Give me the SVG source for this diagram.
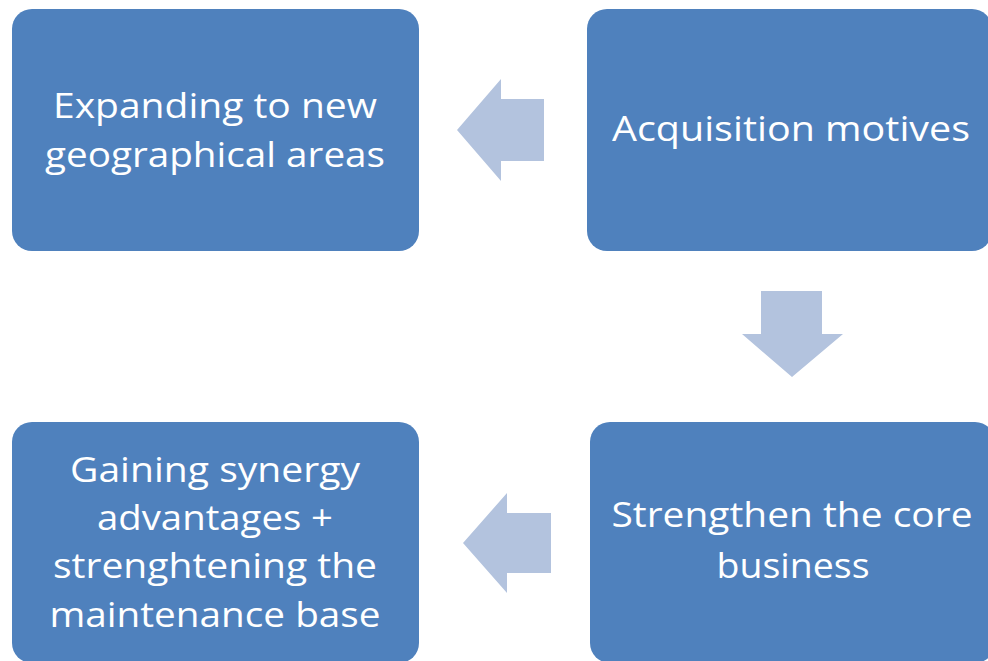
<svg xmlns="http://www.w3.org/2000/svg" width="988" height="661" viewBox="0 0 988 661">
  <style>
    .box { fill: #4F81BD; }
    .arrow { fill: #B3C3DE; }
    .label { fill: #FFFFFF; font-family: "Open Sans", "Noto Sans", "Liberation Sans", sans-serif; font-size: 35px; text-anchor: middle; }
  </style>
  <rect width="988" height="661" fill="#FFFFFF"/>

  <!-- block arrows between the boxes -->
  <g id="connectors">
    <polygon class="arrow" points="457,130 501,79 501,99 544,99 544,161 501,161 501,181"/>
    <polygon class="arrow" points="761,291 822,291 822,334 843,334 792,377 742,334 761,334"/>
    <polygon class="arrow" points="463,543 507,493 507,513 551,513 551,573 507,573 507,593"/>
  </g>

  <g id="node-expanding">
    <rect class="box" x="12" y="9" width="407" height="242" rx="20" ry="20"/>
    <text class="label" x="215" y="118" textLength="324" lengthAdjust="spacingAndGlyphs">Expanding to new</text>
    <text class="label" x="215" y="167" textLength="340" lengthAdjust="spacingAndGlyphs">geographical areas</text>
  </g>

  <g id="node-acquisition">
    <rect class="box" x="587" y="9" width="405" height="242" rx="20" ry="20"/>
    <text class="label" x="791" y="141" textLength="358" lengthAdjust="spacingAndGlyphs">Acquisition motives</text>
  </g>

  <g id="node-synergy">
    <rect class="box" x="12" y="422" width="407" height="241" rx="20" ry="20"/>
    <text class="label" x="215" y="482" textLength="290" lengthAdjust="spacingAndGlyphs">Gaining synergy</text>
    <text class="label" x="215" y="530" textLength="236" lengthAdjust="spacingAndGlyphs">advantages +</text>
    <text class="label" x="215" y="578" textLength="324" lengthAdjust="spacingAndGlyphs">strenghtening the</text>
    <text class="label" x="215" y="627" textLength="331" lengthAdjust="spacingAndGlyphs">maintenance base</text>
  </g>

  <g id="node-core">
    <rect class="box" x="590" y="422" width="405" height="241" rx="20" ry="20"/>
    <text class="label" x="792" y="527" textLength="361" lengthAdjust="spacingAndGlyphs">Strengthen the core</text>
    <text class="label" x="793" y="578" textLength="153" lengthAdjust="spacingAndGlyphs">business</text>
  </g>
</svg>
